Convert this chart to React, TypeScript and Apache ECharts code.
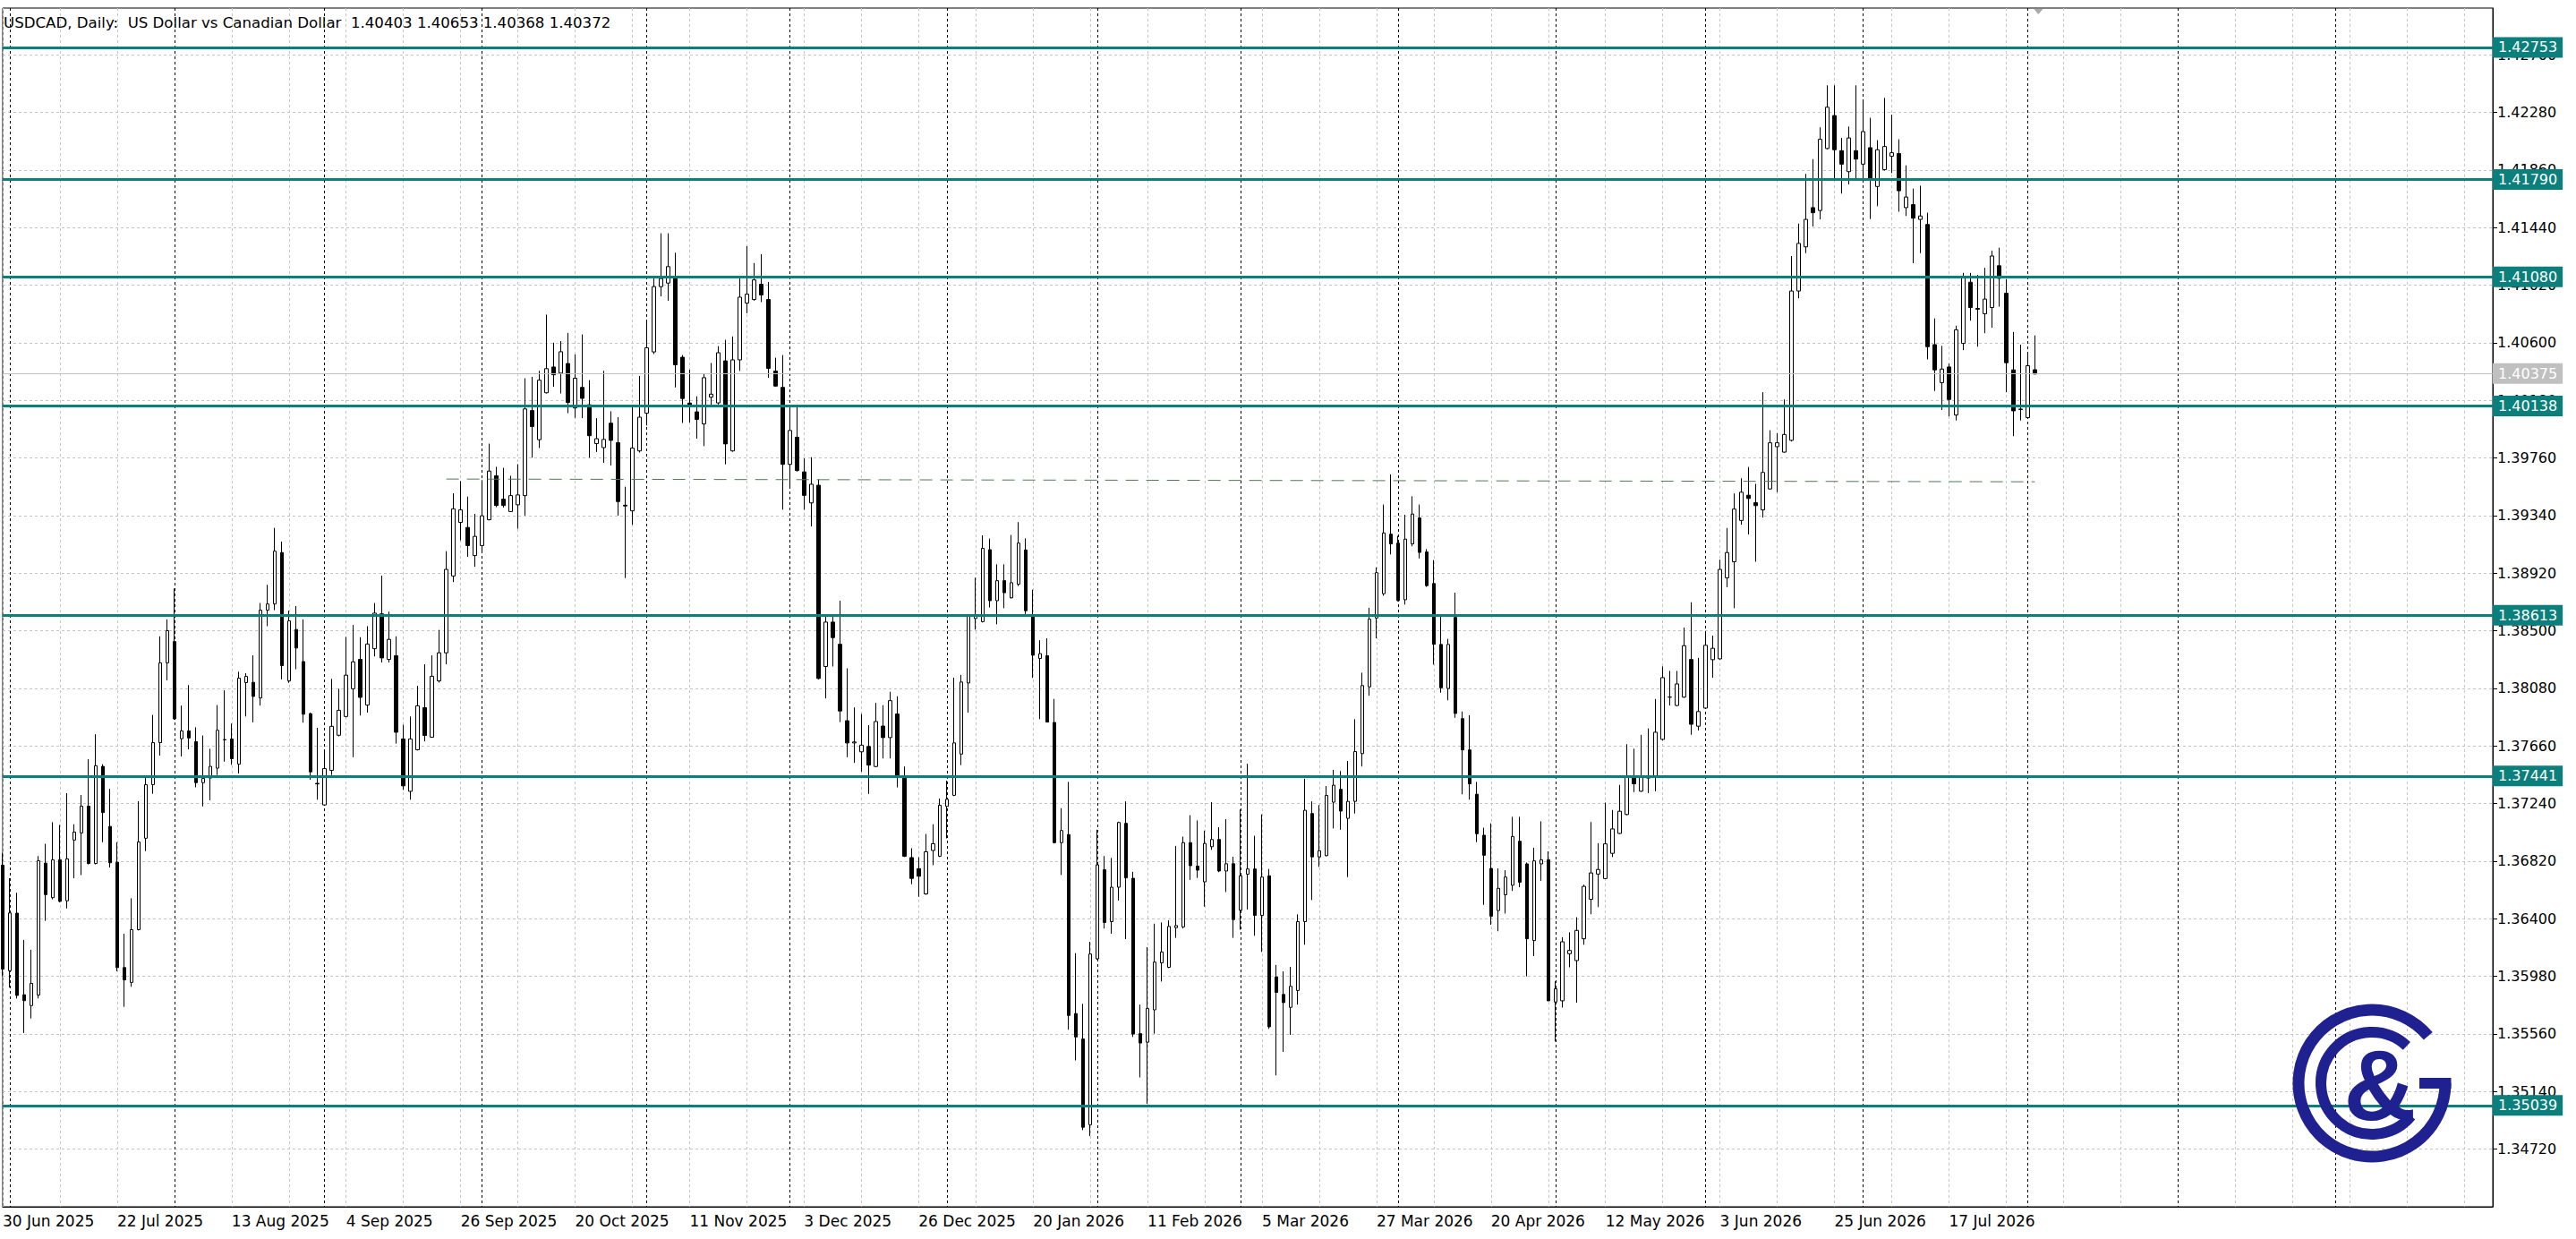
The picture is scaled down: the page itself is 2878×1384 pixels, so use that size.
import React, { useEffect, useRef } from 'react';
import * as echarts from 'echarts';

const TITLE = 'USDCAD, Daily:  US Dollar vs Canadian Dollar  1.40403 1.40653 1.40368 1.40372';

// Each bar: [open, high, low, close]
const JUN_2025 = [[1.36790, 1.36880, 1.35980, 1.36033]];
const JUL_2025 = [
  [1.36021, 1.36696, 1.35898, 1.36442], [1.36441, 1.36590, 1.35819, 1.35841], [1.35846, 1.36246, 1.35567, 1.35803],
  [1.35767, 1.36174, 1.35673, 1.35929], [1.35844, 1.36857, 1.35819, 1.36823], [1.36805, 1.36947, 1.36385, 1.36576],
  [1.36554, 1.37104, 1.36542, 1.36830], [1.36830, 1.37084, 1.36520, 1.36527], [1.36531, 1.37316, 1.36475, 1.36837],
  [1.36974, 1.37089, 1.36695, 1.37032], [1.37026, 1.37302, 1.36718, 1.37221], [1.37221, 1.37563, 1.36796, 1.36803],
  [1.36803, 1.37745, 1.36796, 1.37516], [1.37511, 1.37527, 1.36958, 1.37174], [1.37073, 1.37347, 1.36774, 1.36808],
  [1.36812, 1.36958, 1.36017, 1.36044], [1.36044, 1.36291, 1.35758, 1.35954], [1.35936, 1.36549, 1.35904, 1.36320],
  [1.36320, 1.37257, 1.36315, 1.36960], [1.36987, 1.37426, 1.36893, 1.37378], [1.37378, 1.37886, 1.37311, 1.37684],
  [1.37684, 1.38459, 1.37590, 1.38266], [1.38266, 1.38583, 1.38138, 1.38500],
];
const AUG_2025 = [
  [1.38421, 1.38808, 1.37850, 1.37859], [1.37713, 1.37954, 1.37583, 1.37770], [1.37770, 1.38104, 1.37635, 1.37718],
  [1.37691, 1.37796, 1.37358, 1.37392], [1.37392, 1.37736, 1.37219, 1.37423], [1.37426, 1.37639, 1.37264, 1.37511],
  [1.37498, 1.37958, 1.37448, 1.37774], [1.37707, 1.38066, 1.37545, 1.37704], [1.37711, 1.37823, 1.37522, 1.37567],
  [1.37527, 1.38201, 1.37459, 1.38154], [1.38122, 1.38190, 1.37875, 1.38167], [1.38124, 1.38320, 1.37832, 1.38021],
  [1.38010, 1.38702, 1.37954, 1.38650], [1.38650, 1.38835, 1.38533, 1.38695], [1.38695, 1.39250, 1.38650, 1.39080],
  [1.39070, 1.39150, 1.38145, 1.38246], [1.38134, 1.38646, 1.38120, 1.38572], [1.38509, 1.38680, 1.38219, 1.38374],
  [1.38275, 1.38583, 1.37830, 1.37891], [1.37895, 1.37904, 1.37414, 1.37471], [1.37387, 1.37792, 1.37268, 1.37383],
];
const SEP_2025 = [
  [1.37230, 1.37635, 1.37223, 1.37495], [1.37482, 1.38149, 1.37448, 1.37803], [1.37738, 1.38077, 1.37730, 1.37920],
  [1.37875, 1.38455, 1.37868, 1.38176], [1.38077, 1.38542, 1.37578, 1.38273], [1.38291, 1.38453, 1.37882, 1.38014],
  [1.37958, 1.38533, 1.37904, 1.38403], [1.38369, 1.38702, 1.38313, 1.38628], [1.38623, 1.38902, 1.38268, 1.38302],
  [1.38291, 1.38639, 1.38268, 1.38437], [1.38318, 1.38459, 1.37677, 1.37760], [1.37711, 1.37814, 1.37340, 1.37369],
  [1.37329, 1.37875, 1.37268, 1.37711], [1.37632, 1.38098, 1.37627, 1.37953], [1.37939, 1.38255, 1.37693, 1.37736],
  [1.37724, 1.38320, 1.37720, 1.38168], [1.38134, 1.38506, 1.38122, 1.38339], [1.38339, 1.39080, 1.38255, 1.38947],
  [1.38899, 1.39502, 1.38855, 1.39389], [1.39290, 1.39591, 1.39159, 1.39381], [1.39253, 1.39478, 1.39039, 1.39121],
  [1.39048, 1.39352, 1.38966, 1.39188],
];
const OCT_2025 = [
  [1.39121, 1.39598, 1.39068, 1.39338], [1.39309, 1.39864, 1.39305, 1.39664], [1.39630, 1.39695, 1.39401, 1.39413],
  [1.39459, 1.39688, 1.39398, 1.39413], [1.39369, 1.39630, 1.39365, 1.39485], [1.39418, 1.39714, 1.39244, 1.39490],
  [1.39485, 1.40341, 1.39340, 1.40117], [1.40105, 1.40351, 1.39762, 1.39989], [1.39893, 1.40395, 1.39832, 1.40327],
  [1.40235, 1.40805, 1.40230, 1.40411], [1.40423, 1.40600, 1.40279, 1.40366], [1.40378, 1.40612, 1.40230, 1.40534],
  [1.40448, 1.40672, 1.40086, 1.40165], [1.40124, 1.40515, 1.40052, 1.40341], [1.40274, 1.40660, 1.40050, 1.40194],
  [1.40148, 1.40327, 1.39762, 1.39922], [1.39864, 1.40050, 1.39803, 1.39900], [1.39835, 1.40395, 1.39724, 1.39895],
  [1.40013, 1.40100, 1.39705, 1.39888], [1.39871, 1.40057, 1.39340, 1.39442], [1.39415, 1.39550, 1.38884, 1.39410],
  [1.39374, 1.40129, 1.39273, 1.39832], [1.39811, 1.40358, 1.39799, 1.40057],
];
const NOV_2025 = [
  [1.40086, 1.40768, 1.39996, 1.40563], [1.40533, 1.41068, 1.40517, 1.41009], [1.41009, 1.41398, 1.40938, 1.41068],
  [1.41035, 1.41398, 1.40906, 1.41155], [1.41068, 1.41256, 1.40274, 1.40439], [1.40494, 1.40510, 1.40015, 1.40193],
  [1.40160, 1.40403, 1.40019, 1.40138], [1.40096, 1.40209, 1.39901, 1.40041], [1.40008, 1.40371, 1.39846, 1.40345],
  [1.40203, 1.40452, 1.40144, 1.40225], [1.40161, 1.40575, 1.40150, 1.40527], [1.40468, 1.40621, 1.39713, 1.39862],
  [1.39811, 1.40646, 1.39805, 1.40475], [1.40475, 1.41068, 1.40394, 1.40932], [1.40889, 1.41304, 1.40815, 1.40954],
  [1.40915, 1.41181, 1.40906, 1.41058], [1.41026, 1.41246, 1.40896, 1.40948], [1.40915, 1.41042, 1.40345, 1.40413],
  [1.40394, 1.40491, 1.40280, 1.40284], [1.40274, 1.40510, 1.39383, 1.39713],
];
const DEC_2025 = [
  [1.39713, 1.40144, 1.39538, 1.39960], [1.39911, 1.40144, 1.39660, 1.39668], [1.39658, 1.39756, 1.39383, 1.39487],
  [1.39432, 1.39765, 1.39260, 1.39568], [1.39561, 1.39603, 1.38145, 1.38152], [1.38239, 1.38605, 1.38006, 1.38563],
  [1.38563, 1.38605, 1.38239, 1.38450], [1.38401, 1.38719, 1.37834, 1.37915], [1.37844, 1.38226, 1.37578, 1.37682],
  [1.37682, 1.37941, 1.37536, 1.37689], [1.37617, 1.37893, 1.37472, 1.37666], [1.37656, 1.37812, 1.37310, 1.37520],
  [1.37510, 1.37974, 1.37505, 1.37838], [1.37805, 1.37957, 1.37569, 1.37721], [1.37721, 1.38055, 1.37569, 1.37990],
  [1.37893, 1.38022, 1.37358, 1.37446], [1.37433, 1.37510, 1.36850, 1.36856], [1.36846, 1.36914, 1.36652, 1.36694],
  [1.36765, 1.36849, 1.36560, 1.36710], [1.36581, 1.37018, 1.36575, 1.36888], [1.36898, 1.37089, 1.36791, 1.36947],
  [1.36856, 1.37277, 1.36850, 1.37228],
];
const JAN_2026 = [
  [1.37219, 1.37407, 1.36986, 1.37271], [1.37300, 1.38158, 1.37294, 1.37682], [1.37601, 1.38178, 1.37520, 1.38126],
  [1.38119, 1.38622, 1.37902, 1.38605], [1.38589, 1.38887, 1.38508, 1.38605], [1.38566, 1.39195, 1.38560, 1.39101],
  [1.39091, 1.39172, 1.38670, 1.38719], [1.38719, 1.38984, 1.38547, 1.38865], [1.38865, 1.38984, 1.38664, 1.38777],
  [1.38740, 1.39198, 1.38735, 1.38850], [1.38839, 1.39292, 1.38826, 1.39139], [1.39089, 1.39174, 1.38622, 1.38646],
  [1.38602, 1.38799, 1.38156, 1.38321], [1.38298, 1.38431, 1.37855, 1.38333], [1.38318, 1.38445, 1.37834, 1.37834],
  [1.37831, 1.38003, 1.36949, 1.36955], [1.36955, 1.37206, 1.36719, 1.37043], [1.37014, 1.37398, 1.35591, 1.35695],
  [1.35709, 1.36149, 1.35367, 1.35538], [1.35523, 1.35780, 1.34859, 1.34880], [1.34898, 1.36232, 1.34815, 1.36143],
];
const FEB_2026 = [
  [1.36108, 1.37049, 1.36100, 1.36793], [1.36757, 1.36857, 1.36329, 1.36373], [1.36379, 1.36843, 1.36291, 1.36630],
  [1.36630, 1.37108, 1.36533, 1.37102], [1.37096, 1.37256, 1.36252, 1.36698], [1.36695, 1.36742, 1.35538, 1.35559],
  [1.35562, 1.35774, 1.35243, 1.35494], [1.35500, 1.36193, 1.35051, 1.35745], [1.35736, 1.36364, 1.35562, 1.36084],
  [1.36078, 1.36373, 1.35942, 1.36158], [1.36046, 1.36388, 1.36040, 1.36344], [1.36335, 1.36931, 1.36261, 1.36350],
  [1.36341, 1.36999, 1.36329, 1.36955], [1.36955, 1.37155, 1.36683, 1.36787], [1.36784, 1.37117, 1.36698, 1.36754],
  [1.36669, 1.37043, 1.36488, 1.36949], [1.36925, 1.37250, 1.36902, 1.36978], [1.36978, 1.37067, 1.36740, 1.36748],
  [1.36748, 1.37126, 1.36595, 1.36801], [1.36801, 1.36852, 1.36261, 1.36394],
];
const MAR_2026 = [
  [1.36462, 1.37197, 1.36320, 1.36713], [1.36725, 1.37530, 1.36468, 1.36763], [1.36763, 1.37005, 1.36276, 1.36424],
  [1.36424, 1.37161, 1.36158, 1.36704], [1.36713, 1.36763, 1.35597, 1.35612], [1.35975, 1.36063, 1.35258, 1.35863],
  [1.35848, 1.36016, 1.35429, 1.35789], [1.35754, 1.36049, 1.35553, 1.35907], [1.35877, 1.36432, 1.35774, 1.36379],
  [1.36379, 1.37421, 1.36211, 1.37191], [1.37167, 1.37256, 1.36536, 1.36851], [1.36851, 1.37229, 1.36778, 1.36896],
  [1.36860, 1.37368, 1.36855, 1.37300], [1.37250, 1.37486, 1.37058, 1.37374], [1.37344, 1.37477, 1.37049, 1.37185],
  [1.37132, 1.37551, 1.36704, 1.37256], [1.37256, 1.37855, 1.37167, 1.37619], [1.37604, 1.38194, 1.37510, 1.38100],
  [1.38091, 1.38667, 1.38026, 1.38584], [1.38593, 1.38962, 1.38445, 1.38923], [1.38770, 1.39420, 1.38755, 1.39213],
  [1.39204, 1.39640, 1.39056, 1.39133],
];
const APR_2026 = [
  [1.39139, 1.39192, 1.38715, 1.38720], [1.38726, 1.39345, 1.38690, 1.39168], [1.39133, 1.39480, 1.39115, 1.39351],
  [1.39322, 1.39420, 1.39027, 1.39071], [1.39074, 1.39095, 1.38820, 1.38829], [1.38844, 1.39015, 1.38253, 1.38401],
  [1.38400, 1.38605, 1.38048, 1.38084], [1.38079, 1.38441, 1.37993, 1.38400], [1.38597, 1.38778, 1.37865, 1.37897],
  [1.37859, 1.37911, 1.37308, 1.37631], [1.37631, 1.37884, 1.37269, 1.37384], [1.37308, 1.37398, 1.36959, 1.37020],
  [1.37009, 1.37064, 1.36501, 1.36863], [1.36767, 1.37096, 1.36356, 1.36419], [1.36460, 1.36767, 1.36309, 1.36622],
  [1.36575, 1.36754, 1.36438, 1.36704], [1.36644, 1.37143, 1.36603, 1.37000], [1.36965, 1.37143, 1.36630, 1.36666],
  [1.36800, 1.36810, 1.35980, 1.36254], [1.36241, 1.36918, 1.36128, 1.36822], [1.36800, 1.37110, 1.36677, 1.36830],
  [1.36830, 1.36891, 1.35799, 1.35802],
];
const MAY_2026 = [
  [1.35793, 1.35944, 1.35505, 1.35889], [1.35802, 1.36265, 1.35752, 1.36232], [1.36145, 1.36301, 1.36046, 1.36169],
  [1.36095, 1.36411, 1.35788, 1.36315], [1.36254, 1.36649, 1.36210, 1.36636], [1.36542, 1.37105, 1.36433, 1.36734],
  [1.36726, 1.36951, 1.36485, 1.36759], [1.36693, 1.37247, 1.36690, 1.36946], [1.36877, 1.37193, 1.36850, 1.37055],
  [1.37022, 1.37376, 1.37018, 1.37184], [1.37160, 1.37673, 1.37155, 1.37439], [1.37426, 1.37640, 1.37324, 1.37384],
  [1.37330, 1.37741, 1.37325, 1.37431], [1.37426, 1.37788, 1.37316, 1.37439], [1.37439, 1.38002, 1.37330, 1.37760],
  [1.37708, 1.38240, 1.37700, 1.38158], [1.38016, 1.38207, 1.37955, 1.38016], [1.37955, 1.38207, 1.37950, 1.38112],
  [1.38016, 1.38523, 1.38010, 1.38391], [1.38290, 1.38707, 1.37741, 1.37818], [1.37804, 1.38302, 1.37773, 1.37911],
];
const JUN_2026 = [
  [1.37936, 1.38495, 1.37930, 1.38394], [1.38289, 1.38464, 1.38157, 1.38372], [1.38295, 1.39018, 1.38290, 1.38947],
  [1.38886, 1.39249, 1.38818, 1.39070], [1.39003, 1.39501, 1.38664, 1.39387], [1.39304, 1.39611, 1.39273, 1.39510],
  [1.39488, 1.39694, 1.39202, 1.39464], [1.39433, 1.39571, 1.39003, 1.39412], [1.39381, 1.40239, 1.39325, 1.39654],
  [1.39534, 1.39962, 1.39530, 1.39870], [1.39842, 1.39940, 1.39510, 1.39870], [1.39802, 1.40186, 1.39798, 1.39931],
  [1.39888, 1.41232, 1.39880, 1.40977], [1.40977, 1.41469, 1.40924, 1.41324], [1.41299, 1.41831, 1.41253, 1.41499],
  [1.41585, 1.41939, 1.41447, 1.41548], [1.41564, 1.42170, 1.41499, 1.42083], [1.42016, 1.42477, 1.42010, 1.42317],
  [1.42256, 1.42477, 1.41785, 1.42007], [1.42000, 1.42093, 1.41687, 1.41902], [1.41847, 1.42176, 1.41754, 1.42093],
  [1.42000, 1.42477, 1.41794, 1.41939],
];
const JUL_2026 = [
  [1.41902, 1.42369, 1.41790, 1.42139], [1.42022, 1.42240, 1.41502, 1.41794], [1.41739, 1.42077, 1.41595, 1.42007],
  [1.41862, 1.42385, 1.41855, 1.42031], [1.41960, 1.42262, 1.41837, 1.41985], [1.41979, 1.42083, 1.41555, 1.41708],
  [1.41585, 1.41893, 1.41524, 1.41662], [1.41607, 1.41724, 1.41180, 1.41508], [1.41499, 1.41745, 1.41253, 1.41524],
  [1.41462, 1.41548, 1.40478, 1.40571], [1.40586, 1.40777, 1.40248, 1.40402], [1.40309, 1.40577, 1.40109, 1.40408],
  [1.40423, 1.40448, 1.40063, 1.40186], [1.40073, 1.40724, 1.40033, 1.40694], [1.40595, 1.41109, 1.40546, 1.41078],
  [1.41041, 1.41109, 1.40761, 1.40857], [1.40850, 1.41094, 1.40571, 1.40844], [1.40811, 1.41146, 1.40669, 1.40918],
  [1.40857, 1.41272, 1.40709, 1.41232], [1.41161, 1.41293, 1.40863, 1.41069], [1.40961, 1.41063, 1.40239, 1.40454],
  [1.40402, 1.40678, 1.39919, 1.40103], [1.40116, 1.40586, 1.40033, 1.40113],
];
const AUG_2026 = [
  [1.40054, 1.40524, 1.40048, 1.40432], [1.40403, 1.40653, 1.40368, 1.40372],
];

const BARS = [
  ...JUN_2025, ...JUL_2025, ...AUG_2025, ...SEP_2025, ...OCT_2025, ...NOV_2025, ...DEC_2025,
  ...JAN_2026, ...FEB_2026, ...MAR_2026, ...APR_2026, ...MAY_2026, ...JUN_2026, ...JUL_2026, ...AUG_2026,
];

// horizontal support / resistance levels
const LEVELS = [1.42753, 1.41790, 1.41080, 1.40138, 1.38613, 1.37441, 1.35039];
const BID = 1.40375;
// dashed trend line: [bar index, price]
const TREND_START = [62, 1.39606];
const TREND_END = [284, 1.39586];

const Y_TICKS = [
  1.34720, 1.35140, 1.35560, 1.35980, 1.36400, 1.36820, 1.37240, 1.37660, 1.38080, 1.38500,
  1.38920, 1.39340, 1.39760, 1.40180, 1.40600, 1.41020, 1.41440, 1.41860, 1.42280, 1.42700,
];
const Y_MIN = 1.343;
const Y_MAX = 1.4304;

const FIRST_DAY = [2025, 5, 30];
const HOLIDAYS = ['2025-12-25', '2026-01-01'];
const TOTAL_SLOTS = 349;
const LABEL_EVERY = 16;
const GRID_EVERY = 8;
const MONTHS = ['Jan', 'Feb', 'Mar', 'Apr', 'May', 'Jun', 'Jul', 'Aug', 'Sep', 'Oct', 'Nov', 'Dec'];

const TEAL = '#0b7f7b';
const NAVY = '#1f2190';
const FONT = 'DejaVu Sans';

function tradingDays(n: number): Date[] {
  const out: Date[] = [];
  let t = Date.UTC(FIRST_DAY[0], FIRST_DAY[1], FIRST_DAY[2]);
  while (out.length < n) {
    const d = new Date(t);
    const wd = d.getUTCDay();
    const iso = d.toISOString().slice(0, 10);
    if (wd !== 0 && wd !== 6 && !HOLIDAYS.includes(iso)) out.push(d);
    t += 86400000;
  }
  return out;
}

export default function App() {
  const ref = useRef<HTMLDivElement>(null);

  useEffect(() => {
    document.body.style.margin = '0';
    if (!ref.current) return;
    const chart = echarts.init(ref.current, undefined, { renderer: 'svg' });

    const days = tradingDays(TOTAL_SLOTS);
    const cats = days.map((d) => `${d.getUTCDate()} ${MONTHS[d.getUTCMonth()]} ${d.getUTCFullYear()}`);
    const monthStart = days.map((d, i) => i > 0 && d.getUTCMonth() !== days[i - 1].getUTCMonth());
    const last = BARS.length - 1;
    const candles = BARS.map(([o, h, l, c]) => [o, c, l, h]);

    const boxLabel = (v: number, bg: string) => ({
      show: true, position: 'end', distance: 0, formatter: () => v.toFixed(5),
      color: '#fff', backgroundColor: bg, fontSize: 16, fontFamily: FONT,
      padding: [3, 6, 3, 6], lineHeight: 17,
    });
    const levelLines = LEVELS.map((v) => ({
      yAxis: v,
      lineStyle: { color: TEAL, width: 3, type: 'solid' },
      label: boxLabel(v, TEAL),
    }));
    const bidLine = {
      yAxis: BID,
      lineStyle: { color: '#c0c0c0', width: 1, type: 'solid' },
      label: boxLabel(BID, '#c0c0c0'),
    };
    const trend = [
      { coord: [cats[TREND_START[0]], TREND_START[1]], lineStyle: { color: '#4f7a55', width: 1, type: [14, 9] }, label: { show: false } },
      { coord: [cats[TREND_END[0]], TREND_END[1]] },
    ];

    chart.setOption({
      animation: false,
      backgroundColor: '#ffffff',
      grid: { left: 1, right: 93, top: 9, bottom: 36, show: true, borderColor: '#000', borderWidth: 1, backgroundColor: 'transparent' },
      xAxis: [
        {
          type: 'category', data: cats, boundaryGap: false,
          axisLine: { show: true, lineStyle: { color: '#000', width: 1 } },
          axisTick: { show: false },
          axisLabel: {
            interval: (i: number) => i % LABEL_EVERY === 0 && i <= last,
            align: 'left', color: '#000', fontSize: 17, fontFamily: FONT, margin: 7,
          },
          splitLine: { show: true, interval: (i: number) => i % GRID_EVERY === 0, lineStyle: { color: '#c4c4c4', width: 1, type: [3, 3] } },
        },
        {
          type: 'category', data: cats, boundaryGap: false, position: 'top',
          axisLine: { show: false }, axisTick: { show: false }, axisLabel: { show: false },
          splitLine: { show: true, interval: (i: number) => monthStart[i], lineStyle: { color: '#000', width: 1, type: [3, 3] } },
        },
      ],
      yAxis: {
        type: 'value', position: 'right', min: Y_MIN, max: Y_MAX,
        axisLine: { show: true, lineStyle: { color: '#000', width: 1 } },
        axisTick: { show: true, length: 5, customValues: Y_TICKS, lineStyle: { color: '#000' } },
        axisLabel: { customValues: Y_TICKS, formatter: (v: number) => v.toFixed(5), color: '#000', fontSize: 16, fontFamily: FONT, margin: 5 },
        splitLine: { show: true, lineStyle: { color: '#c4c4c4', width: 1, type: [3, 3] } },
      },
      series: [
        {
          type: 'candlestick',
          xAxisIndex: 0,
          data: candles,
          barWidth: 4,
          itemStyle: { color: '#ffffff', color0: '#000000', borderColor: '#000000', borderColor0: '#000000', borderWidth: 1 },
          markLine: {
            silent: true, symbol: ['none', 'none'], animation: false, precision: 5,
            data: [bidLine, ...levelLines, trend],
          },
        },
      ],
    });

    const xLast = chart.convertToPixel({ xAxisIndex: 0 }, cats[last]) as number;
    const cx = 2650;
    const cy = 1210;
    chart.setOption({
      graphic: [
        { type: 'text', x: 4, y: 25, z: 100, style: { text: TITLE, fill: '#000', fontSize: 16.6, fontFamily: FONT, align: 'left', verticalAlign: 'middle' } },
        { type: 'polygon', z: 100, shape: { points: [[xLast - 1, 10], [xLast + 9, 10], [xLast + 4, 16]] }, style: { fill: '#a8a8a8' } },
        { type: 'arc', z: 100, shape: { cx, cy, r: 82, startAngle: 0, endAngle: (320 * Math.PI) / 180, clockwise: true }, style: { stroke: NAVY, lineWidth: 13, fill: 'none', lineCap: 'butt' } },
        { type: 'rect', z: 100, shape: { x: 2703, y: cy - 6, width: 35.5, height: 12 }, style: { fill: NAVY } },
        { type: 'arc', z: 100, shape: { cx, cy, r: 57, startAngle: (40 * Math.PI) / 180, endAngle: (313 * Math.PI) / 180, clockwise: true }, style: { stroke: NAVY, lineWidth: 12, fill: 'none', lineCap: 'butt' } },
        { type: 'text', x: cx + 9, y: cy + 2, z: 100, style: { text: '&', fill: NAVY, fontSize: 112, fontWeight: 'bold', fontFamily: 'Liberation Sans', align: 'center', verticalAlign: 'middle' } },
      ],
    });

    return () => chart.dispose();
  }, []);

  return <div ref={ref} style={{ position: 'fixed', left: 0, top: 0, width: 2878, height: 1384, background: '#fff' }} />;
}
